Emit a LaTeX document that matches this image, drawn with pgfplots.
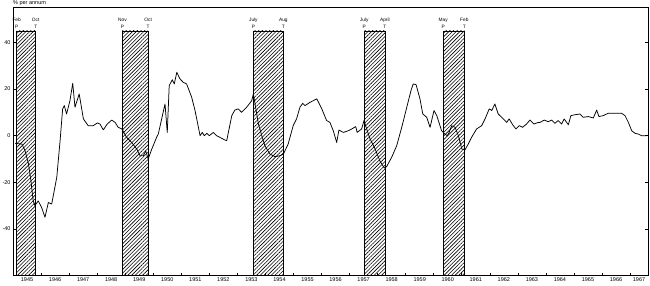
\documentclass[border=0pt]{standalone}
\usepackage{fontspec}
\setmainfont{Liberation Sans}
\usepackage{pgfplots}
\pgfplotsset{compat=1.18}
\usetikzlibrary{patterns.meta}
\tikzset{ml/.style={font=\fontsize{4.8}{5}\selectfont, inner sep=0pt}}
\begin{document}
\begin{tikzpicture}
\begin{axis}[
  scale only axis, width=635pt, height=268pt,
  xmin=1945, xmax=1967.64, ymin=-60, ymax=55,
  axis line style={line width=0.9pt},
  clip=false,
  xtick={1946,...,1967}, xticklabels={},
  minor x tick num=3,
  major tick length=3pt, minor tick length=1.5pt,
  xtick pos=left,
  extra x ticks={1945.5,1946.5,1947.5,1948.5,1949.5,1950.5,1951.5,1952.5,1953.5,1954.5,1955.5,1956.5,1957.5,1958.5,1959.5,1960.5,1961.5,1962.5,1963.5,1964.5,1965.5,1966.5,1967.32},
  extra x tick labels={1945,1946,1947,1948,1949,1950,1951,1952,1953,1954,1955,1956,1957,1958,1959,1960,1961,1962,1963,1964,1965,1966,1967},
  extra x tick style={major tick length=0pt, tick label style={yshift=1pt}},
  ytick={-40,-20,0,20,40},
  yticklabel style={xshift=1pt},
  tick style={black, line width=0.5pt},
  tick label style={font=\fontsize{5.5}{6}\selectfont},
  /pgf/number format/assume math mode=true,
]
% recession shading (peak to trough)
\addplot[draw=black, line width=0.6pt, pattern={Lines[angle=45,distance=2.6pt,line width=0.6pt]}] coordinates {(1945.13,-60) (1945.13,45) (1945.81,45) (1945.81,-60)} -- cycle;
\addplot[draw=black, line width=0.6pt, pattern={Lines[angle=45,distance=2.6pt,line width=0.6pt]}] coordinates {(1948.90,-60) (1948.90,45) (1949.82,45) (1949.82,-60)} -- cycle;
\addplot[draw=black, line width=0.6pt, pattern={Lines[angle=45,distance=2.6pt,line width=0.6pt]}] coordinates {(1953.57,-60) (1953.57,45) (1954.64,45) (1954.64,-60)} -- cycle;
\addplot[draw=black, line width=0.6pt, pattern={Lines[angle=45,distance=2.6pt,line width=0.6pt]}] coordinates {(1957.52,-60) (1957.52,45) (1958.26,45) (1958.26,-60)} -- cycle;
\addplot[draw=black, line width=0.6pt, pattern={Lines[angle=45,distance=2.6pt,line width=0.6pt]}] coordinates {(1960.34,-60) (1960.34,45) (1961.09,45) (1961.09,-60)} -- cycle;

% series
\addplot[black, line width=0.75pt, line join=round] coordinates {
(1945.08,-3.3) (1945.32,-3.6) (1945.43,-6.5) (1945.55,-12) (1945.64,-19.4) (1945.72,-28) (1945.78,-30)
(1945.90,-28) (1946.02,-30.8) (1946.14,-35) (1946.26,-28.7) (1946.38,-29.3) (1946.56,-17.9) (1946.68,-2)
(1946.77,11.5) (1946.83,12.9) (1946.91,9.3) (1947.03,15) (1947.13,22.5) (1947.21,12.2) (1947.36,17.9)
(1947.51,7.2) (1947.68,4.3) (1947.86,4.3) (1948.01,5.5) (1948.10,5) (1948.22,2.5) (1948.36,5)
(1948.52,6.7) (1948.64,5.7) (1948.75,3.6) (1948.88,2.9) (1949.05,-0.7) (1949.23,-2.9) (1949.41,-5.7)
(1949.53,-8.6) (1949.65,-8.6) (1949.73,-6.5) (1949.82,-10) (1949.95,-5.7) (1950.12,-0.7) (1950.18,0.7)
(1950.42,13.6) (1950.50,1.4) (1950.57,21.5) (1950.68,24) (1950.75,22.2) (1950.84,27.2) (1950.95,24.4)
(1951.07,22.9) (1951.19,22.2) (1951.37,16.5) (1951.49,10.8) (1951.67,0) (1951.75,1.4) (1951.82,0)
(1951.91,1) (1952.00,0) (1952.14,1.4) (1952.26,0) (1952.42,-1) (1952.56,-1.9) (1952.62,-2.1)
(1952.80,8.6) (1952.91,11) (1953.03,11.5) (1953.15,10) (1953.33,12.2) (1953.51,15) (1953.57,17.9)
(1953.63,13.6) (1953.75,5) (1953.87,0) (1953.98,-4.3) (1954.16,-7.9) (1954.34,-9) (1954.52,-8.6)
(1954.64,-7.9) (1954.81,-3.6) (1954.99,4.3) (1955.11,7.2) (1955.23,12.2) (1955.33,13.9) (1955.41,12.9)
(1955.59,14.3) (1955.83,15.8) (1956.01,11.5) (1956.18,6.5) (1956.30,5.7) (1956.42,2.1) (1956.54,-2.9)
(1956.62,2.4) (1956.78,1.4) (1956.95,2.1) (1957.08,2.9) (1957.22,3.9) (1957.27,1.4) (1957.43,2.9)
(1957.52,6.7) (1957.57,4.3) (1957.73,-1.4) (1957.91,-5.7) (1958.08,-10.8) (1958.24,-13.9) (1958.32,-13.3)
(1958.50,-9.3) (1958.68,-4.3) (1958.86,3.6) (1959.04,12.2) (1959.19,19.4) (1959.27,22.2) (1959.37,21.9)
(1959.51,15.8) (1959.61,9.3) (1959.75,7.9) (1959.87,3.6) (1960.01,10.8) (1960.11,8.6) (1960.28,2.1)
(1960.40,0.7) (1960.48,0) (1960.55,1.4) (1960.64,4.3) (1960.76,3.6) (1960.88,0) (1961.00,-5.7)
(1961.11,-6.2) (1961.23,-3.6) (1961.35,-0.7) (1961.53,2.9) (1961.71,4.3) (1961.83,7.2) (1961.98,11.5)
(1962.07,10.8) (1962.18,13.6) (1962.30,9.3) (1962.48,7.2) (1962.60,5.7) (1962.69,7.2) (1962.82,4.6)
(1962.93,2.9) (1963.05,4.3) (1963.17,3.6) (1963.31,5) (1963.43,6.7) (1963.57,5) (1963.73,5.7)
(1963.79,5.7) (1963.94,6.7) (1964.08,6) (1964.21,6.7) (1964.32,5.3) (1964.44,6.5) (1964.56,5)
(1964.65,7.2) (1964.80,4.7) (1964.89,8.6) (1965.04,9) (1965.21,9.3) (1965.33,7.9) (1965.51,8.2)
(1965.69,7.6) (1965.81,11) (1965.89,8.2) (1966.04,8.6) (1966.22,9.6) (1966.46,9.6) (1966.70,9.6)
(1966.82,8.6) (1966.94,5.7) (1967.06,2.1) (1967.18,1) (1967.29,0.7) (1967.41,0) (1967.59,0)
};

% peak / trough labels
\node[ml] at (axis cs:1945.13,49.6) {Feb}; \node[ml] at (axis cs:1945.13,46.9) {P};
\node[ml] at (axis cs:1945.81,49.6) {Oct}; \node[ml] at (axis cs:1945.81,46.9) {T};
\node[ml] at (axis cs:1948.90,49.6) {Nov}; \node[ml] at (axis cs:1948.90,46.9) {P};
\node[ml] at (axis cs:1949.82,49.6) {Oct}; \node[ml] at (axis cs:1949.82,46.9) {T};
\node[ml] at (axis cs:1953.57,49.6) {July}; \node[ml] at (axis cs:1953.57,46.9) {P};
\node[ml] at (axis cs:1954.64,49.6) {Aug}; \node[ml] at (axis cs:1954.64,46.9) {T};
\node[ml] at (axis cs:1957.52,49.6) {July}; \node[ml] at (axis cs:1957.52,46.9) {P};
\node[ml] at (axis cs:1958.26,49.6) {April}; \node[ml] at (axis cs:1958.26,46.9) {T};
\node[ml] at (axis cs:1960.34,49.6) {May}; \node[ml] at (axis cs:1960.34,46.9) {P};
\node[ml] at (axis cs:1961.09,49.6) {Feb}; \node[ml] at (axis cs:1961.09,46.9) {T};
\node[anchor=south west, inner sep=0pt, font=\fontsize{5.5}{6}\selectfont] at ([yshift=1.4pt]rel axis cs:0,1) {\% per annum};
\end{axis}
\pgfresetboundingbox
\path ([shift={(-13pt,-10pt)}]current axis.south west) rectangle ([shift={(2pt,7.5pt)}]current axis.north east);
\end{tikzpicture}
\end{document}
